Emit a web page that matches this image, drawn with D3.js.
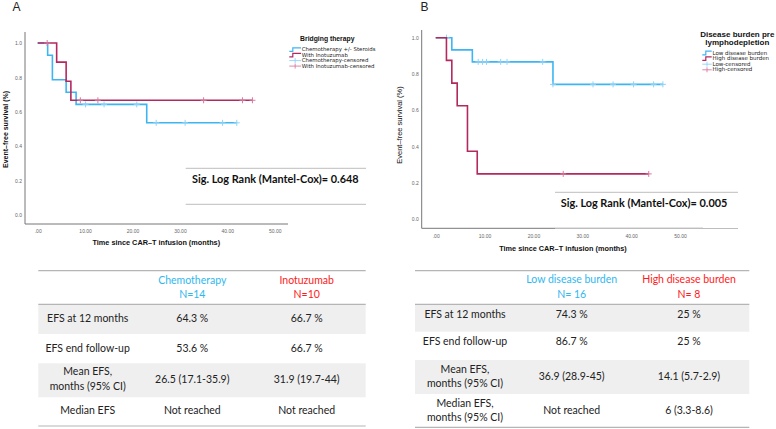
<!DOCTYPE html>
<html>
<head>
<meta charset="utf-8">
<script src="https://cdn.jsdelivr.net/npm/d3@7"></script>
<style>
  body { margin: 0; background: #fff; }
  svg { display: block; font-family: "Liberation Sans", Arial, sans-serif; }
  .tbl { font-family: Lato, "Open Sans", sans-serif; }
</style>
</head>
<body>
<svg width="776" height="429"></svg>
<script>
// panel A - bridging therapy
let chemoTime = [0, 2.1, 3.1, 6.0, 8.1, 23.0]
let chemoSurv = [1, 0.929, 0.786, 0.714, 0.643, 0.536]
let chemoEnd = 42.0
let chemoCensor = [10.1, 14.0, 20.9, 25.0, 31.1, 39.0, 42.0]

let inoTime = [0, 4.0, 6.0, 7.0]
let inoSurv = [1, 0.889, 0.778, 0.667]
let inoEnd = 45.3
let inoCensor = [2.0, 9.0, 12.7, 35.0, 43.2, 45.3]

// panel B - disease burden
let lowTime = [0, 3.3, 7.5, 24.0]
let lowSurv = [1, 0.933, 0.867, 0.743]
let lowEnd = 46.5
let lowCensor = [2.2, 8.7, 9.6, 10.4, 13.3, 14.6, 21.9, 24.0, 32.2, 36.3, 40.5, 44.6, 46.5]

let highTime = [0, 2.2, 3.3, 4.4, 6.5, 8.5]
let highSurv = [1, 0.875, 0.75, 0.625, 0.375, 0.25]
let highEnd = 43.6
let highCensor = [26.1, 43.6]

let xTicks = [0, 10, 20, 30, 40, 50]
let yTicks = [0, 0.2, 0.4, 0.6, 0.8, 1.0]

let legendA = ["Chemotherapy +/- Steroids", "With Inotuzumab", "Chemotherapy-censored", "With Inotuzumab-censored"]
let legendB = ["Low disease burden", "High disease burden", "Low-censored", "High-censored"]

let headersA = [["Chemotherapy", "N=14"], ["Inotuzumab", "N=10"]]
let rowLabelsA = [["EFS at 12 months"], ["EFS end follow-up"], ["Mean EFS,", "months (95% CI)"], ["Median EFS"]]
let chemoStats = [["64.3 %"], ["53.6 %"], ["26.5 (17.1-35.9)"], ["Not reached"]]
let inoStats = [["66.7 %"], ["66.7 %"], ["31.9 (19.7-44)"], ["Not reached"]]

let headersB = [["Low disease burden", "N= 16"], ["High disease burden", "N= 8"]]
let rowLabelsB = [["EFS at 12 months"], ["EFS end follow-up"], ["Mean EFS,", "months (95% CI)"], ["Median EFS,", "months (95% CI)"]]
let lowStats = [["74.3 %"], ["86.7 %"], ["36.9 (28.9-45)"], ["Not reached"]]
let highStats = [["25 %"], ["25 %"], ["14.1 (5.7-2.9)"], ["6 (3.3-8.6)"]]

const blue = "#3db5f2"
const blueLight = "#8fd2f7"
const mag = "#b3285f"
const magLight = "#d9799f"
const headBlue = "#2fb8ef"
const headRed = "#ff1a1a"

let svg = d3.select("svg")

const survAt = (times, surv, t) => {
    let v = surv[0]
    times.forEach((tt, i) => { if (tt <= t) v = surv[i] })
    return v
}

const drawPanel = (p) => {
    let g = svg.append("g")
    let xScale = d3.scaleLinear().domain([0, 50]).range([p.x0, p.x50])
    let yScale = d3.scaleLinear().domain([0, 1]).range([p.y0, p.y1])

    // axes
    let yAxis = d3.axisLeft(yScale).tickValues(yTicks).tickSize(0).tickPadding(3)
        .tickFormat(d3.format(".1f"))
    let gy = g.append("g").attr("transform", "translate(" + p.axisX + ",0)").call(yAxis)
    let xAxis = d3.axisBottom(xScale).tickValues(xTicks).tickSize(0).tickPadding(p.xPad)
        .tickFormat(d => d === 0 ? ".00" : d.toFixed(2))
    let gx = g.append("g").attr("transform", "translate(0," + p.axisY + ")").call(xAxis)
    gy.select(".domain").remove()
    gx.select(".domain").remove()
    g.selectAll(".tick text").attr("font-size", 5).attr("fill", "#666").attr("font-family", "Liberation Sans, Arial")

    g.append("line").attr("x1", p.axisX).attr("x2", p.axisX).attr("y1", p.axisTop).attr("y2", p.axisY)
        .attr("stroke", "#777").attr("stroke-width", 1)
    g.append("line").attr("x1", p.axisX).attr("x2", p.axisRight).attr("y1", p.axisY).attr("y2", p.axisY)
        .attr("stroke", "#777").attr("stroke-width", 1)

    // sig box
    g.selectAll(".sigline").data(p.sigLines).enter().append("line")
        .attr("x1", p.sigX1).attr("x2", p.sigX2).attr("y1", d => d).attr("y2", d => d)
        .attr("stroke", "#bdbdbd").attr("stroke-width", 1)
    g.append("text").attr("x", p.sigTextX).attr("y", p.sigTextY).attr("class", "tbl")
        .attr("font-size", 10.9).attr("font-weight", "bold").attr("fill", "#111")
        .attr("dominant-baseline", "middle").text(p.sigText)

    let line = d3.line().x(d => xScale(d[0])).y(d => yScale(d[1])).curve(d3.curveStepAfter)

    p.series.forEach(s => {
        let pts = s.time.map((t, i) => [t, s.surv[i]])
        pts.push([s.end, s.surv[s.surv.length - 1]])
        g.append("path").datum(pts).attr("d", line).attr("fill", "none")
            .attr("stroke", s.color).attr("stroke-width", 1.6)
        let cg = g.append("g")
        cg.selectAll("line.v").data(s.censor).enter().append("line")
            .attr("x1", d => xScale(d)).attr("x2", d => xScale(d))
            .attr("y1", d => yScale(survAt(s.time, s.surv, d)) - 3)
            .attr("y2", d => yScale(survAt(s.time, s.surv, d)) + 3)
            .attr("stroke", s.light).attr("stroke-width", 1)
        cg.selectAll("line.h").data(s.censor).enter().append("line")
            .attr("x1", d => xScale(d) - 3).attr("x2", d => xScale(d) + 3)
            .attr("y1", d => yScale(survAt(s.time, s.surv, d)))
            .attr("y2", d => yScale(survAt(s.time, s.surv, d)))
            .attr("stroke", s.light).attr("stroke-width", 1)
    })

    // labels
    g.append("text").attr("x", p.letterX).attr("y", 11).attr("font-size", 12).attr("fill", "#222").text(p.letter)
    g.append("text").attr("x", p.xLabelX).attr("y", p.xLabelY).attr("text-anchor", "middle")
        .attr("font-size", 7.3).attr("font-weight", "bold").attr("fill", "#111")
        .attr("dominant-baseline", "middle").text("Time since CAR\u2013T infusion (months)")
    g.append("text").attr("transform", "translate(" + p.yLabelX + "," + p.yLabelY + ") rotate(-90)")
        .attr("text-anchor", "middle").attr("dominant-baseline", "middle")
        .attr("font-size", p.yLabelSize).attr("font-weight", p.yLabelWeight).attr("fill", "#111")
        .text("Event\u2013free survival (%)")

    // legend
    let lg = g.append("g")
    lg.selectAll("text.title").data(p.legTitle).enter().append("text")
        .attr("x", p.legTitleX).attr("y", (d, i) => p.legTitleY + i * 7.7)
        .attr("text-anchor", "middle").attr("dominant-baseline", "middle")
        .attr("font-size", p.legTitleSize).attr("font-weight", "bold").attr("fill", "#111").text(d => d)
    let cols = [p.series[0].color, p.series[1].color, p.series[0].light, p.series[1].light]
    p.legItems.forEach((name, i) => {
        let y = p.legY[i]
        let x0 = p.legX0, x1 = p.legX1
        if (i < 2) {
            lg.append("path").attr("d", "M" + x0 + "," + (y + 1.8) + "H" + (x0 + 3.5) + "V" + (y - 1.8) + "H" + x1)
                .attr("fill", "none").attr("stroke", cols[i]).attr("stroke-width", 1.2)
        } else {
            lg.append("path").attr("d", "M" + x0 + "," + y + "H" + x1 + "M" + ((x0 + x1) / 2) + "," + (y - 2.5) + "V" + (y + 2.5))
                .attr("fill", "none").attr("stroke", cols[i]).attr("stroke-width", 0.9)
        }
        lg.append("text").attr("x", x1 + 0.8).attr("y", y).attr("dominant-baseline", "middle")
            .attr("font-family", "DejaVu Sans, sans-serif")
            .attr("font-size", p.legSize).attr("fill", "#222").text(name)
    })
}

const drawTable = (t) => {
    let g = svg.append("g").attr("class", "tbl")
    for (let i = 0; i < t.rowTop.length - 1; i += 2) {
        g.append("rect").attr("x", t.left).attr("width", t.right - t.left)
            .attr("y", t.rowTop[i]).attr("height", t.rowTop[i + 1] - t.rowTop[i]).attr("fill", "#efefef")
    }
    let lines = [t.top, t.rowTop[0], t.rowTop[t.rowTop.length - 1]]
    g.selectAll("line").data(lines).enter().append("line")
        .attr("x1", t.left).attr("x2", t.right).attr("y1", d => d).attr("y2", d => d)
        .attr("stroke", "#b5b5b5").attr("stroke-width", 1.2)

    t.headers.forEach((h, c) => {
        h.forEach((s, k) => {
            g.append("text").attr("x", t.colX[c + 1]).attr("y", t.headY[k]).attr("text-anchor", "middle")
                .attr("dominant-baseline", "middle").attr("font-size", 10.5)
                .attr("fill", c === 0 ? headBlue : headRed).text(s)
        })
    })
    let cols = [t.labels, t.col1, t.col2]
    cols.forEach((col, c) => {
        col.forEach((cell, r) => {
            let mid = t.textY[r]
            cell.forEach((s, k) => {
                g.append("text").attr("x", t.colX[c]).attr("y", mid + (k - (cell.length - 1) / 2) * t.lineH)
                    .attr("text-anchor", "middle").attr("dominant-baseline", "middle")
                    .attr("font-size", 10.5).attr("fill", "#222").text(s)
            })
        })
    })
}

drawPanel({
    letter: "A", letterX: 12.5,
    x0: 37.7, x50: 274.7, y0: 215, y1: 43,
    axisX: 25, axisY: 224, axisTop: 32, axisRight: 288, xPad: 5,
    sigLines: [168.3, 204.3], sigX1: 185.7, sigX2: 366, sigTextX: 192, sigTextY: 180.5,
    sigText: "Sig. Log Rank (Mantel-Cox)= 0.648",
    xLabelX: 156.3, xLabelY: 243.3,
    yLabelX: 6, yLabelY: 129.5, yLabelSize: 7, yLabelWeight: "bold",
    legTitle: ["Bridging therapy"], legTitleX: 327.3, legTitleY: 39.5, legTitleSize: 6.8,
    legItems: legendA, legY: [49.6, 55.1, 60.6, 66.1], legX0: 289.3, legX1: 301, legSize: 5.4,
    series: [
        { time: chemoTime, surv: chemoSurv, end: chemoEnd, censor: chemoCensor, color: blue, light: blueLight },
        { time: inoTime, surv: inoSurv, end: inoEnd, censor: inoCensor, color: mag, light: magLight }
    ]
})

drawPanel({
    letter: "B", letterX: 420.5,
    x0: 435.7, x50: 680, y0: 219.3, y1: 37.7,
    axisX: 421.7, axisY: 228.3, axisTop: 30, axisRight: 703, xPad: 6,
    sigLines: [192.3, 228.5], sigX1: 555, sigX2: 738, sigTextX: 560.7, sigTextY: 204,
    sigText: "Sig. Log Rank (Mantel-Cox)= 0.005",
    xLabelX: 563, xLabelY: 249,
    yLabelX: 400, yLabelY: 125, yLabelSize: 7.5, yLabelWeight: "normal",
    legTitle: ["Disease burden pre", "lymphodepletion"], legTitleX: 737.3, legTitleY: 35, legTitleSize: 8,
    legItems: legendB, legY: [53, 58.6, 64.2, 69.8], legX0: 702.3, legX1: 711.7, legSize: 5.5,
    series: [
        { time: lowTime, surv: lowSurv, end: lowEnd, censor: lowCensor, color: blue, light: blueLight },
        { time: highTime, surv: highSurv, end: highEnd, censor: highCensor, color: mag, light: magLight }
    ]
})

drawTable({
    left: 38.3, right: 365.7, top: 270.7,
    rowTop: [304.3, 334, 363.3, 397.3, 426],
    textY: [319.7, 349.3, 380.2, 411.7], lineH: 15,
    colX: [87.7, 192.3, 306.7], headY: [281, 295.7],
    headers: headersA, labels: rowLabelsA, col1: chemoStats, col2: inoStats
})

drawTable({
    left: 415, right: 749.3, top: 270.7,
    rowTop: [304.3, 331.7, 360, 394, 427.3],
    textY: [315.5, 342.5, 377.2, 411.3], lineH: 14.3,
    colX: [465, 571.7, 689], headY: [280.7, 295],
    headers: headersB, labels: rowLabelsB, col1: lowStats, col2: highStats
})
</script>
</body>
</html>
